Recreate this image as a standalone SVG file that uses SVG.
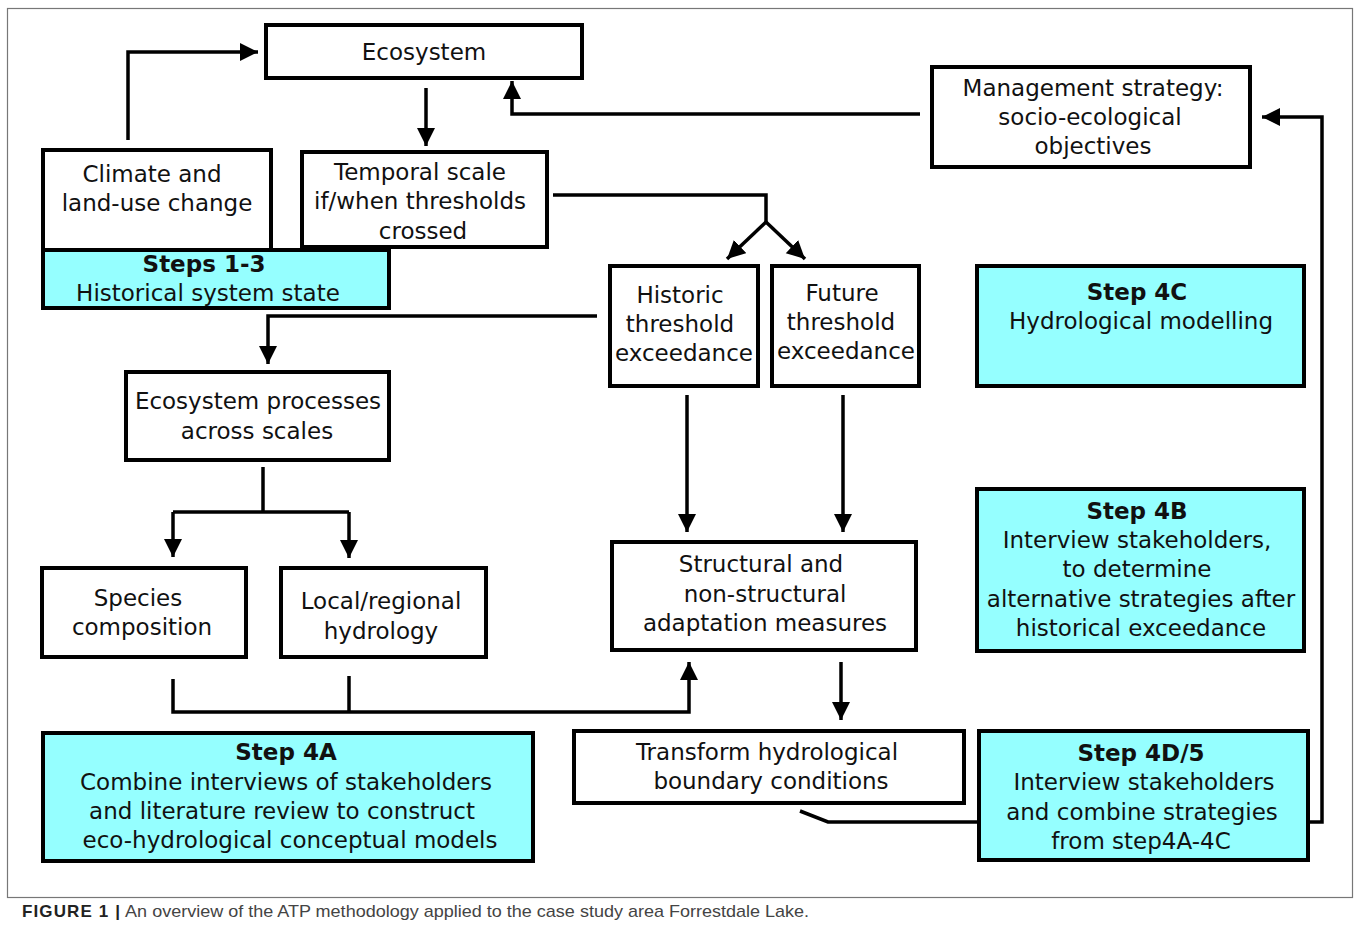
<svg xmlns="http://www.w3.org/2000/svg" width="1360" height="928" viewBox="0 0 1360 928">
<defs>
<style>
.box{fill:#fff;stroke:#000;stroke-width:4}
.step{fill:#95ffff;stroke:#000;stroke-width:4}
.t{font-family:"DejaVu Sans",Verdana,sans-serif;font-size:23px;fill:#111;text-anchor:middle}
.b{font-weight:bold}
.ln{fill:none;stroke:#000;stroke-width:3.5}
</style>
<marker id="ah" markerUnits="userSpaceOnUse" markerWidth="20" markerHeight="20" refX="18" refY="9" orient="auto">
<path d="M0,0 L18,9 L0,18 Z" fill="#000"/>
</marker>
</defs>
<rect x="0" y="0" width="1360" height="928" fill="#fff"/>
<rect x="7.5" y="8.5" width="1345" height="889" fill="none" stroke="#777" stroke-width="1.2"/>

<g id="connectors">
<path class="ln" d="M128,140 V52 H258" marker-end="url(#ah)"/>
<path class="ln" d="M426,88 V146" marker-end="url(#ah)"/>
<path class="ln" d="M920,114 H512 V81" marker-end="url(#ah)"/>
<path class="ln" d="M553,195 H766 V222"/>
<path class="ln" d="M766,222 L727,259" marker-end="url(#ah)"/>
<path class="ln" d="M766,222 L805,259" marker-end="url(#ah)"/>
<path class="ln" d="M597,316 H268 V364" marker-end="url(#ah)"/>
<path class="ln" d="M263,467 V512"/>
<path class="ln" d="M173,512 H349"/>
<path class="ln" d="M173,512 V557" marker-end="url(#ah)"/>
<path class="ln" d="M349,512 V558" marker-end="url(#ah)"/>
<path class="ln" d="M687,395 V532" marker-end="url(#ah)"/>
<path class="ln" d="M843,395 V532" marker-end="url(#ah)"/>
<path class="ln" d="M173,679 V712 H689 V662" marker-end="url(#ah)"/>
<path class="ln" d="M349,676 V712"/>
<path class="ln" d="M841,662 V720" marker-end="url(#ah)"/>
<path class="ln" d="M800,811 L828,822 H979"/>
<path class="ln" d="M1308,822 H1322 V117 H1262" marker-end="url(#ah)"/>
</g>

<g id="ecosystem">
<rect class="box" x="266" y="25" width="316" height="53"/>
<text class="t" x="424" y="60">Ecosystem</text>
</g>
<g id="management">
<rect class="box" x="932" y="67" width="318" height="100"/>
<text class="t" x="1093" y="96">Management strategy:</text>
<text class="t" x="1090" y="125">socio-ecological</text>
<text class="t" x="1093" y="154">objectives</text>
</g>
<g id="climate">
<rect class="box" x="43" y="150" width="228" height="100"/>
<text class="t" x="152" y="182">Climate and</text>
<text class="t" x="157" y="211">land-use change</text>
</g>
<g id="temporal">
<rect class="box" x="302" y="152" width="245" height="95"/>
<text class="t" x="420" y="180">Temporal scale</text>
<text class="t" x="420" y="209">if/when thresholds</text>
<text class="t" x="423" y="239">crossed</text>
</g>
<g id="steps13">
<rect class="step" x="43" y="250" width="346" height="58"/>
<text class="t b" x="204" y="272">Steps 1-3</text>
<text class="t" x="208" y="301">Historical system state</text>
</g>
<g id="historic">
<rect class="box" x="610" y="266" width="148" height="120"/>
<text class="t" x="680" y="303">Historic</text>
<text class="t" x="680" y="332">threshold</text>
<text class="t" x="684" y="361">exceedance</text>
</g>
<g id="future">
<rect class="box" x="772" y="266" width="147" height="120"/>
<text class="t" x="842" y="301">Future</text>
<text class="t" x="841" y="330">threshold</text>
<text class="t" x="846" y="359">exceedance</text>
</g>
<g id="step4c">
<rect class="step" x="977" y="266" width="327" height="120"/>
<text class="t b" x="1137" y="300">Step 4C</text>
<text class="t" x="1141" y="329">Hydrological modelling</text>
</g>
<g id="processes">
<rect class="box" x="126" y="372" width="263" height="88"/>
<text class="t" x="258" y="409">Ecosystem processes</text>
<text class="t" x="257" y="439">across scales</text>
</g>
<g id="species">
<rect class="box" x="42" y="568" width="204" height="89"/>
<text class="t" x="138" y="606">Species</text>
<text class="t" x="142" y="635">composition</text>
</g>
<g id="local">
<rect class="box" x="281" y="568" width="205" height="89"/>
<text class="t" x="381" y="609">Local/regional</text>
<text class="t" x="381" y="639">hydrology</text>
</g>
<g id="structural">
<rect class="box" x="612" y="542" width="304" height="108"/>
<text class="t" x="761" y="572">Structural and</text>
<text class="t" x="765" y="602">non-structural</text>
<text class="t" x="765" y="631">adaptation measures</text>
</g>
<g id="step4b">
<rect class="step" x="977" y="489" width="327" height="162"/>
<text class="t b" x="1137" y="519">Step 4B</text>
<text class="t" x="1137" y="548">Interview stakeholders,</text>
<text class="t" x="1137" y="577">to determine</text>
<text class="t" x="1141" y="607">alternative strategies after</text>
<text class="t" x="1141" y="636">historical exceedance</text>
</g>
<g id="step4a">
<rect class="step" x="43" y="733" width="490" height="128"/>
<text class="t b" x="286" y="760">Step 4A</text>
<text class="t" x="286" y="790">Combine interviews of stakeholders</text>
<text class="t" x="282" y="819">and literature review to construct</text>
<text class="t" x="290" y="848">eco-hydrological conceptual models</text>
</g>
<g id="transform">
<rect class="box" x="574" y="731" width="390" height="72"/>
<text class="t" x="767" y="760">Transform hydrological</text>
<text class="t" x="771" y="789">boundary conditions</text>
</g>
<g id="step4d5">
<rect class="step" x="979" y="731" width="329" height="129"/>
<text class="t b" x="1141" y="761">Step 4D/5</text>
<text class="t" x="1144" y="790">Interview stakeholders</text>
<text class="t" x="1142" y="820">and combine strategies</text>
<text class="t" x="1141" y="849">from step4A-4C</text>
</g>

<text x="22" y="917" font-family="'Liberation Sans',Arial,sans-serif" font-size="17" fill="#222"><tspan font-weight="bold" textLength="98">FIGURE 1 |</tspan><tspan dx="4" fill="#444" textLength="684" lengthAdjust="spacingAndGlyphs">An overview of the ATP methodology applied to the case study area Forrestdale Lake.</tspan></text>
</svg>
